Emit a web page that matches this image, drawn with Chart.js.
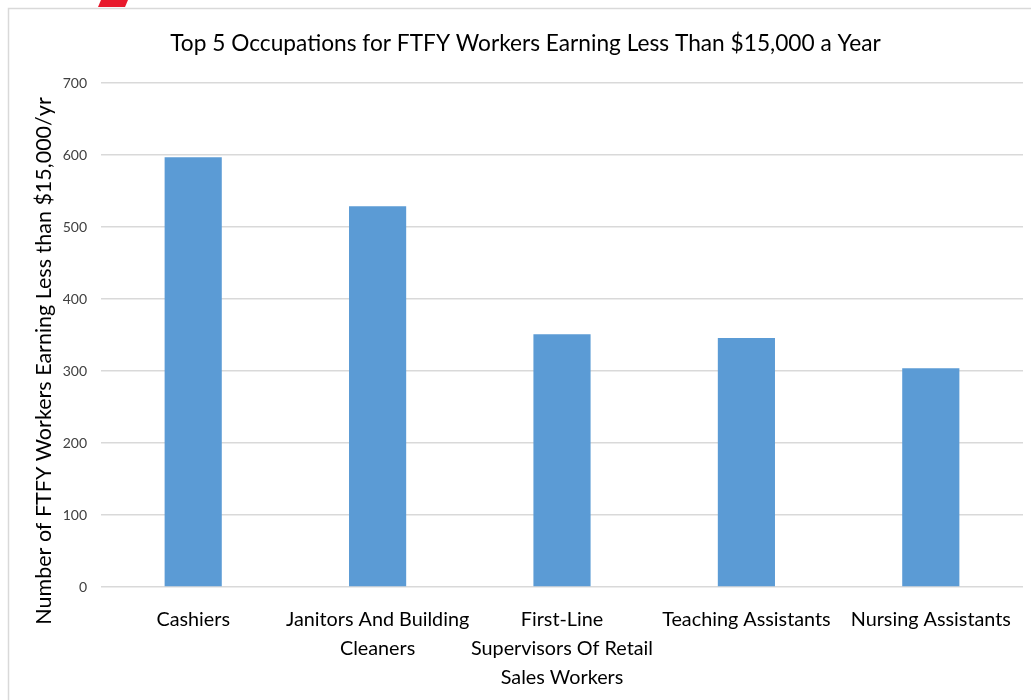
<!DOCTYPE html>
<html lang="en">
<head>
  <meta charset="UTF-8">
  <title>Top 5 Occupations for FTFY Workers</title>
  <script src="https://cdn.jsdelivr.net/npm/chart.js"></script>
  <style>
    html, body { margin: 0; padding: 0; background: #fff; }
    #wrap { position: relative; width: 1031px; height: 700px; }
  </style>
</head>
<body>
  <div id="wrap"><canvas id="occChart" width="1031" height="700"></canvas></div>

  <script>
    const occupations = [
      "Cashiers",
      ["Janitors And Building", "Cleaners"],
      ["First-Line", "Supervisors Of Retail", "Sales Workers"],
      "Teaching Assistants",
      "Nursing Assistants"
    ];
    const workerCounts = [597, 529, 351, 346, 304];
    const yTicks = [0, 100, 200, 300, 400, 500, 600, 700];
    const yTitle = "Number of FTFY Workers Earning Less than $15,000/yr";

    const fontFamily = "Lato, 'Open Sans', sans-serif";

    // frame, little red tab from the slide, and the y axis title
    const frame = {
      id: "frame",
      beforeDraw(chart) {
        const ctx = chart.ctx;
        ctx.save();
        ctx.strokeStyle = "#d9d9d9";
        ctx.lineWidth = 1.5;
        ctx.beginPath();
        ctx.moveTo(8.5, 700);
        ctx.lineTo(8.5, 8.5);
        ctx.lineTo(1031, 8.5);
        ctx.stroke();
        ctx.fillStyle = "#e8192c";
        ctx.beginPath();
        ctx.moveTo(101, 0);
        ctx.lineTo(128, 0);
        ctx.lineTo(125, 7);
        ctx.lineTo(98, 7);
        ctx.closePath();
        ctx.fill();
        ctx.restore();
      },
      afterDraw(chart) {
        const ctx = chart.ctx;
        ctx.save();
        ctx.translate(44, 361);
        ctx.rotate(-Math.PI / 2);
        ctx.fillStyle = "#000";
        ctx.font = "21.5px " + fontFamily;
        ctx.textAlign = "center";
        ctx.textBaseline = "middle";
        ctx.fillText(yTitle, 0, 0);
        ctx.restore();
      }
    };

    new Chart(document.getElementById("occChart"), {
      type: "bar",
      data: {
        labels: occupations,
        datasets: [{
          label: "Workers",
          data: workerCounts,
          backgroundColor: "#5b9bd5",
          borderWidth: 0,
          barPercentage: 0.31,
          categoryPercentage: 1.0
        }]
      },
      options: {
        responsive: false,
        animation: false,
        layout: { padding: { left: 28, right: 8, top: 0, bottom: 0 } },
        plugins: {
          legend: { display: false },
          tooltip: { enabled: false },
          title: {
            display: true,
            text: "Top 5 Occupations for FTFY Workers Earning Less Than $15,000 a Year",
            color: "#000",
            font: { family: fontFamily, size: 22.7, weight: "normal" },
            padding: { top: 30, bottom: 25.8 }
          }
        },
        scales: {
          x: {
            grid: { display: false },
            border: { display: false },
            ticks: {
              color: "#000",
              font: { family: fontFamily, size: 19.8, lineHeight: 1.46 },
              padding: 10,
              maxRotation: 0,
              autoSkip: false
            },
            afterFit(scale) { scale.height = 113; }
          },
          y: {
            min: 0,
            max: 700,
            afterBuildTicks(scale) { scale.ticks = yTicks.map(v => ({ value: v })); },
            grid: { color: "#d9d9d9", lineWidth: 1.5, drawTicks: false },
            border: { display: false },
            ticks: {
              color: "#404040",
              font: { family: fontFamily, size: 14 },
              padding: 14
            },
            afterFit(scale) { scale.width = 73; }
          }
        }
      },
      plugins: [frame]
    });
  </script>
</body>
</html>
